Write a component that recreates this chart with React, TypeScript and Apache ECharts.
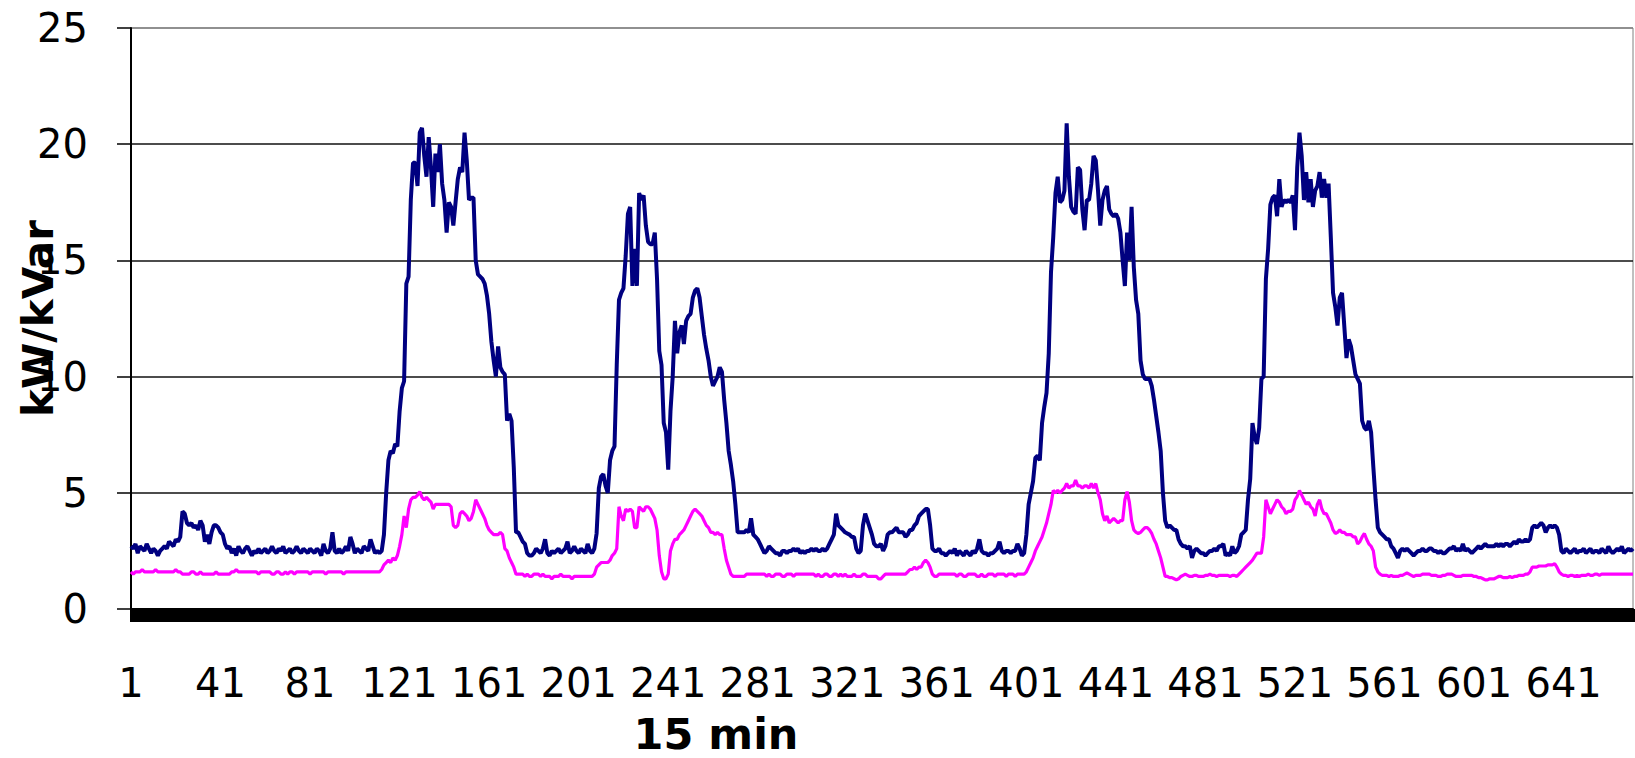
import React, { useEffect, useRef } from "react";
import * as echarts from "echarts";

// Active power (kW), one array per day of 96 quarter-hours
const kwDay1 = [
  2.7, 2.6, 2.8, 2.4, 2.7, 2.6, 2.5, 2.8, 2.6, 2.4,
  2.6, 2.5, 2.3, 2.5, 2.6, 2.7, 2.6, 2.9, 2.8, 2.7,
  3.0, 2.9, 3.1, 4.2, 4.1, 3.7, 3.6, 3.7, 3.5, 3.6,
  3.4, 3.8, 3.6, 2.9, 3.2, 2.8, 3.3, 3.6, 3.6, 3.5,
  3.3, 3.2, 2.8, 2.6, 2.7, 2.4, 2.6, 2.3, 2.7, 2.5,
  2.4, 2.6, 2.7, 2.5, 2.3, 2.5, 2.4, 2.6, 2.4, 2.5,
  2.6, 2.4, 2.5, 2.7, 2.5, 2.4, 2.6, 2.5, 2.7, 2.4,
  2.5, 2.6, 2.4, 2.5, 2.7, 2.5, 2.4, 2.6, 2.5, 2.4,
  2.6, 2.5, 2.4, 2.6, 2.5, 2.3, 2.8, 2.5, 2.4, 2.6,
  3.3, 2.5, 2.4, 2.6, 2.4, 2.5,
];
const kwDay2 = [
  2.7, 2.5, 3.1, 2.8,
  2.4, 2.6, 2.5, 2.4, 2.7, 2.6, 2.5, 3.0, 2.7, 2.4,
  2.5, 2.4, 2.5, 3.2, 5.0, 6.4, 6.8, 6.7, 7.1, 7.0,
  8.5, 9.5, 9.8, 14.0, 14.3, 17.6, 19.2, 19.2, 18.2, 20.5,
  20.7, 19.5, 18.6, 20.3, 19.0, 17.3, 19.6, 18.8, 20.0, 18.3,
  17.6, 16.2, 17.5, 17.3, 16.5, 17.5, 18.5, 19.0, 18.8, 20.5,
  19.3, 17.6, 17.7, 17.7, 15.0, 14.4, 14.3, 14.2, 14.0, 13.5,
  12.7, 11.5, 10.7, 10.0, 11.3, 10.4, 10.2, 10.1, 8.1, 8.4,
  8.1, 6.1, 3.3, 3.3, 3.1, 2.9, 2.8, 2.4, 2.3, 2.3,
  2.4, 2.6, 2.5, 2.4, 2.6, 3.0, 2.4, 2.3, 2.5, 2.4,
  2.5, 2.6,
];
const kwDay3 = [
  2.4, 2.5, 2.6, 2.9, 2.4, 2.5, 2.7, 2.5,
  2.4, 2.6, 2.5, 2.4, 2.8, 2.5, 2.4, 2.6, 3.25, 5.2,
  5.7, 5.8, 5.3, 5.0, 6.4, 6.8, 7.0, 10.5, 13.3, 13.6,
  13.8, 15.2, 17.0, 17.3, 13.9, 15.5, 13.9, 17.9, 17.6, 17.8,
  16.5, 15.8, 15.7, 15.7, 16.2, 14.2, 11.1, 10.5, 8.0, 7.6,
  6.0, 8.5, 10.0, 12.4, 11.0, 11.9, 12.2, 11.4, 12.4, 12.6,
  12.7, 13.4, 13.7, 13.8, 13.4, 12.6, 11.8, 11.2, 10.7, 10.0,
  9.6, 9.8, 10.0, 10.4, 10.2, 9.0, 8.0, 6.8, 6.2, 5.5,
  4.5, 3.3, 3.3, 3.3, 3.3, 3.4, 3.3, 3.9, 3.2, 3.1,
  3.0, 2.8, 2.6, 2.4, 2.5, 2.7, 2.6, 2.5,
];
const kwDay4 = [
  2.4, 2.4,
  2.3, 2.5, 2.5, 2.4, 2.5, 2.5, 2.6, 2.5, 2.6, 2.4,
  2.5, 2.4, 2.5, 2.5, 2.6, 2.5, 2.6, 2.5, 2.5, 2.6,
  2.5, 2.6, 2.8, 3.0, 3.2, 4.1, 3.6, 3.5, 3.4, 3.3,
  3.25, 3.2, 3.1, 3.1, 2.6, 2.4, 2.5, 3.6, 4.1, 3.8,
  3.5, 3.2, 2.8, 2.7, 2.7, 2.8, 2.5, 2.7, 3.2, 3.3,
  3.3, 3.4, 3.5, 3.3, 3.3, 3.3, 3.1, 3.2, 3.4, 3.4,
  3.6, 3.7, 4.0, 4.1, 4.2, 4.3, 4.3, 3.6, 2.6, 2.5,
  2.5, 2.6, 2.4, 2.4, 2.3, 2.4, 2.5, 2.4, 2.6, 2.3,
  2.5, 2.4, 2.3, 2.5, 2.4, 2.3, 2.5, 2.4, 2.6, 3.0,
  2.5, 2.4, 2.4, 2.3,
];
const kwDay5 = [
  2.4, 2.4, 2.5, 2.6, 2.9, 2.5,
  2.4, 2.5, 2.5, 2.4, 2.5, 2.5, 2.8, 2.6, 2.3, 2.4,
  3.2, 4.5, 5.0, 5.5, 6.5, 6.6, 6.4, 8.0, 8.7, 9.3,
  11.0, 14.5, 16.0, 17.9, 18.6, 17.5, 17.6, 18.0, 20.9, 18.6,
  17.3, 17.1, 17.0, 19.0, 18.9, 17.2, 16.3, 17.6, 17.6, 18.3,
  19.5, 19.3, 18.0, 16.5, 17.6, 18.0, 18.2, 17.2, 17.0, 16.9,
  17.0, 16.8, 16.2, 15.0, 13.9, 16.2, 15.0, 17.3, 14.7, 13.3,
  12.7, 10.7, 10.1, 9.9, 9.9, 9.9, 9.6, 9.0, 8.3, 7.6,
  6.8, 5.0, 3.8, 3.5, 3.6, 3.5, 3.4, 3.4, 3.0, 2.8,
  2.7, 2.7, 2.6, 2.7, 2.2, 2.5, 2.6, 2.5, 2.4, 2.4,
];
const kwDay6 = [
  2.3, 2.4, 2.5, 2.5, 2.6, 2.5, 2.7, 2.7, 2.8, 2.3,
  2.4, 2.3, 2.7, 2.4, 2.5, 2.7, 3.2, 3.3, 3.4, 4.7,
  5.6, 8.0, 7.4, 7.1, 7.8, 9.9, 10.0, 14.2, 15.5, 17.4,
  17.7, 17.8, 16.9, 18.5, 17.3, 17.6, 17.5, 17.6, 17.5, 17.8,
  16.3, 19.0, 20.5, 19.5, 17.6, 18.8, 17.5, 18.5, 17.3, 18.0,
  18.2, 18.8, 17.7, 18.5, 17.7, 18.3, 16.0, 13.6, 13.0, 12.2,
  13.4, 13.6, 12.2, 10.8, 11.6, 11.3, 10.7, 10.1, 9.9, 9.7,
  8.1, 7.8, 7.7, 8.1, 7.6, 6.1, 4.7, 3.5, 3.3, 3.2,
  3.1, 3.0, 3.0, 2.7, 2.6, 2.4, 2.2, 2.5, 2.6, 2.5,
  2.6, 2.5, 2.4, 2.3, 2.4, 2.5,
];
const kwDay7 = [
  2.5, 2.6, 2.5, 2.5,
  2.6, 2.6, 2.5, 2.5, 2.4, 2.5, 2.4, 2.4, 2.5, 2.6,
  2.6, 2.7, 2.5, 2.6, 2.5, 2.8, 2.5, 2.6, 2.5, 2.4,
  2.5, 2.6, 2.7, 2.6, 2.7, 2.8, 2.7, 2.7, 2.7, 2.7,
  2.8, 2.7, 2.8, 2.7, 2.8, 2.8, 2.7, 2.8, 2.9, 2.8,
  3.0, 2.9, 2.9, 3.0, 2.9, 3.0, 3.5, 3.6, 3.5, 3.6,
  3.7, 3.6, 3.3, 3.5, 3.6, 3.5, 3.6, 3.5, 3.2, 2.5,
  2.4, 2.6, 2.5, 2.4, 2.5, 2.6, 2.4, 2.5, 2.5, 2.6,
  2.4, 2.5, 2.6, 2.4, 2.5, 2.5, 2.4, 2.6, 2.5, 2.4,
  2.7, 2.5, 2.4, 2.5, 2.6, 2.5, 2.7, 2.4, 2.5, 2.6, 2.5, 2.6,
];

// Reactive power (kVar), one array per day
const kvarDay1 = [
  1.6, 1.5, 1.6, 1.6, 1.6, 1.7, 1.6, 1.6, 1.6, 1.6, 1.6, 1.7, 1.6, 1.6, 1.6, 1.6, 1.6, 1.6, 1.6, 1.6,
  1.7, 1.6, 1.6, 1.5, 1.5, 1.5, 1.5, 1.6, 1.6, 1.5, 1.5, 1.6, 1.5, 1.5, 1.5, 1.5, 1.5, 1.5, 1.6, 1.5,
  1.5, 1.5, 1.5, 1.5, 1.5, 1.6, 1.6, 1.7, 1.6, 1.6, 1.6, 1.6, 1.6, 1.6, 1.6, 1.6, 1.6, 1.5, 1.6, 1.6,
  1.6, 1.6, 1.6, 1.5, 1.5, 1.6, 1.6, 1.5, 1.5, 1.6, 1.5, 1.6, 1.6, 1.5, 1.6, 1.6, 1.6, 1.6, 1.6, 1.6,
  1.5, 1.6, 1.6, 1.6, 1.6, 1.6, 1.6, 1.5, 1.6, 1.6, 1.6, 1.6, 1.6, 1.6, 1.6, 1.5,
];
const kvarDay2 = [
  1.6, 1.6, 1.6, 1.6,
  1.6, 1.6, 1.6, 1.6, 1.6, 1.6, 1.6, 1.6, 1.6, 1.6, 1.6, 1.6, 1.7,
  1.9, 2.0, 2.1, 2.0, 2.2, 2.1, 2.3,
  2.7, 3.2, 4.0, 3.5, 4.3, 4.7, 4.8, 4.8, 4.9, 5.05,
  4.8, 4.7, 4.8, 4.7, 4.6, 4.3, 4.5, 4.5, 4.5, 4.5,
  4.5, 4.5, 4.5, 4.4, 3.6, 3.5, 3.6, 4.1, 4.2, 4.1,
  4.0, 3.8, 3.9, 4.2, 4.7, 4.5, 4.3, 4.1, 3.9, 3.6,
  3.4, 3.3, 3.2, 3.2, 3.2, 3.3, 3.2, 2.6, 2.5, 2.2,
  2.0, 1.8, 1.5, 1.5, 1.5, 1.5, 1.4, 1.5, 1.4, 1.4,
  1.5, 1.5, 1.5, 1.4, 1.5, 1.4, 1.4, 1.4, 1.3, 1.4, 1.4, 1.4,
];
const kvarDay3 = [
  1.5, 1.4, 1.4, 1.4, 1.4, 1.3, 1.4, 1.4, 1.4, 1.4, 1.4, 1.4, 1.4, 1.4, 1.4, 1.5,
  1.8, 1.9, 2.0, 2.0, 2.0, 2.0, 2.1, 2.3, 2.4, 2.6,
  4.4, 4.0, 3.8, 4.3, 4.2, 4.3, 4.2, 3.5, 3.5, 4.4,
  4.3, 4.2, 4.4, 4.4, 4.3, 4.1, 3.9, 3.4, 2.3, 1.6,
  1.3, 1.3, 1.5, 2.5, 2.8, 3.0, 3.0, 3.2, 3.3, 3.4,
  3.6, 3.8, 4.0, 4.2, 4.3, 4.2, 4.1, 4.0, 3.8, 3.6,
  3.5, 3.3, 3.3, 3.2, 3.3, 3.2, 3.2, 2.6, 2.1, 1.8,
  1.5, 1.4, 1.4, 1.4, 1.4, 1.4, 1.4, 1.5, 1.5, 1.5,
  1.5, 1.5, 1.5, 1.5, 1.5, 1.5, 1.4, 1.5, 1.4, 1.4,
];
const kvarDay4 = [
  1.5, 1.5, 1.5, 1.4, 1.4, 1.5, 1.5, 1.5, 1.4, 1.5,
  1.5, 1.5, 1.5, 1.5, 1.5, 1.5, 1.5, 1.5, 1.4, 1.5,
  1.4, 1.4, 1.5, 1.5, 1.4, 1.4, 1.5, 1.5, 1.4, 1.5,
  1.4, 1.5, 1.4, 1.4, 1.4, 1.5, 1.4, 1.4, 1.4, 1.5,
  1.5, 1.4, 1.4, 1.4, 1.4, 1.4, 1.3, 1.3, 1.4, 1.5,
  1.5, 1.5, 1.5, 1.5, 1.5, 1.5, 1.5, 1.5, 1.5, 1.6,
  1.7, 1.7, 1.8, 1.7, 1.8, 1.8, 2.0, 2.1, 2.0, 1.8,
  1.5, 1.4, 1.4, 1.5, 1.5, 1.5, 1.5, 1.5, 1.5, 1.5,
  1.5, 1.4, 1.5, 1.5, 1.4, 1.4, 1.5, 1.5, 1.5, 1.5,
  1.4, 1.4, 1.5, 1.4, 1.4, 1.5,
];
const kvarDay5 = [
  1.5, 1.5, 1.4, 1.5, 1.5, 1.5, 1.5, 1.4, 1.5, 1.5,
  1.5, 1.4, 1.5, 1.5, 1.5, 1.5, 1.6, 1.8, 2.0, 2.2,
  2.5, 2.7, 2.9, 3.1, 3.4, 3.7, 4.1, 4.5, 5.1, 5.0,
  5.1, 5.0, 5.1, 5.2, 5.4, 5.2, 5.3, 5.3, 5.55, 5.3,
  5.3, 5.2, 5.3, 5.3, 5.2, 5.4, 5.2, 5.4, 5.0, 4.7,
  4.1, 3.8, 4.0, 3.7, 3.8, 3.9, 3.8, 3.7, 3.8, 3.8,
  4.7, 5.05, 4.6, 3.8, 3.4, 3.3, 3.25, 3.3, 3.4, 3.5,
  3.5, 3.4, 3.25, 3.0, 2.8, 2.5, 2.2, 1.8, 1.4, 1.4,
  1.35, 1.35, 1.3, 1.25, 1.3, 1.4, 1.45, 1.5, 1.45, 1.4,
  1.4, 1.45, 1.45, 1.4, 1.4, 1.4,
];
const kvarDay6 = [
  1.45, 1.45, 1.5, 1.45, 1.45, 1.4, 1.45, 1.45, 1.45, 1.45,
  1.45, 1.4, 1.45, 1.45, 1.4, 1.5, 1.6, 1.7, 1.8, 1.9,
  2.0, 2.1, 2.25, 2.4, 2.4, 2.4, 3.1, 4.7, 4.4, 4.1,
  4.3, 4.5, 4.7, 4.6, 4.4, 4.3, 4.1, 4.2, 4.2, 4.3,
  4.7, 4.85, 5.1, 4.9, 4.7, 4.5, 4.6, 4.4, 4.3, 4.0,
  4.5, 4.7, 4.3, 4.1, 4.1, 3.9, 3.7, 3.4, 3.25, 3.3,
  3.4, 3.3, 3.3, 3.2, 3.2, 3.2, 3.1, 3.1, 2.8, 2.9,
  3.1, 3.25, 3.0, 2.8, 2.7, 2.5, 1.8, 1.6, 1.5, 1.45,
  1.45, 1.45, 1.4, 1.45, 1.4, 1.4, 1.4, 1.45, 1.45, 1.5,
  1.55, 1.5, 1.45, 1.4, 1.45, 1.45,
];
const kvarDay7 = [
  1.45, 1.5, 1.5, 1.5, 1.5, 1.45, 1.45, 1.45, 1.4, 1.4,
  1.45, 1.45, 1.5, 1.5, 1.5, 1.45, 1.4, 1.4, 1.4, 1.45,
  1.45, 1.45, 1.45, 1.45, 1.4, 1.4, 1.35, 1.35, 1.3, 1.25,
  1.25, 1.3, 1.3, 1.3, 1.35, 1.4, 1.4, 1.35, 1.35, 1.35,
  1.4, 1.35, 1.4, 1.4, 1.45, 1.45, 1.45, 1.5, 1.5, 1.6,
  1.8, 1.8, 1.8, 1.85, 1.85, 1.85, 1.85, 1.9, 1.9, 1.9,
  1.95, 1.8, 1.6, 1.5, 1.45, 1.45, 1.4, 1.45, 1.45, 1.4,
  1.45, 1.4, 1.45, 1.45, 1.45, 1.5, 1.45, 1.45, 1.5, 1.5,
  1.45, 1.5, 1.5, 1.5, 1.5, 1.5, 1.5, 1.5, 1.5, 1.5,
  1.5, 1.5, 1.5, 1.5, 1.5, 1.5,
];

const activePower = [...kwDay1, ...kwDay2, ...kwDay3, ...kwDay4, ...kwDay5, ...kwDay6, ...kwDay7];
const reactivePower = [...kvarDay1, ...kvarDay2, ...kvarDay3, ...kvarDay4, ...kvarDay5, ...kvarDay6, ...kvarDay7];

// x categories: quarter-hour index 1..672
const categories = activePower.map((_, i) => String(i + 1));
const xLabelEvery = 40;
const yMin = 0;
const yMax = 25;
const yStep = 5;
const xTitle = "15 min";
const yTitle = "kW/kVar";

export default function App() {
  const ref = useRef<HTMLDivElement>(null);

  useEffect(() => {
    if (!ref.current) return;
    const chart = echarts.init(ref.current, undefined, { renderer: "svg" });
    chart.setOption({
      animation: false,
      backgroundColor: "#ffffff",
      textStyle: { fontFamily: "DejaVu Sans" },
      grid: {
        left: 131,
        right: 2,
        top: 28,
        bottom: 149,
        containLabel: false,
        outerBoundsMode: "none",
        show: true,
        borderColor: "#808080",
        borderWidth: 1,
        backgroundColor: "transparent",
      },
      xAxis: {
        type: "category",
        data: categories,
        boundaryGap: false,
        name: xTitle,
        nameLocation: "middle",
        nameGap: 103,
        nameMoveOverlap: false,
        nameTextStyle: {
          fontFamily: "DejaVu Sans",
          fontWeight: "bold",
          fontSize: 43,
          color: "#000",
          padding: [0, 332, 0, 0],
        },
        axisLine: { show: true, lineStyle: { color: "#000", width: 2 } },
        axisTick: {
          show: true,
          interval: 0,
          length: 13,
          lineStyle: { color: "#000", width: 3 },
        },
        axisLabel: {
          interval: xLabelEvery - 1,
          margin: 54,
          fontFamily: "DejaVu Sans",
          fontSize: 40,
          color: "#000",
        },
        splitLine: { show: false },
      },
      yAxis: {
        type: "value",
        min: yMin,
        max: yMax,
        interval: yStep,
        name: yTitle,
        nameLocation: "middle",
        nameRotate: 90,
        nameGap: 72,
        nameMoveOverlap: false,
        nameTextStyle: {
          fontFamily: "DejaVu Sans",
          fontWeight: "bold",
          fontSize: 42,
          color: "#000",
        },
        axisLine: { show: true, lineStyle: { color: "#000", width: 2 } },
        axisTick: { show: true, length: 14, lineStyle: { color: "#000", width: 1.5 } },
        axisLabel: {
          margin: 43,
          fontFamily: "DejaVu Sans",
          fontSize: 40,
          color: "#000",
        },
        splitLine: {
          show: true,
          lineStyle: {
            color: ["#000", "#111", "#111", "#111", "#111", "#808080"],
            width: 1.5,
          },
        },
      },
      series: [
        {
          name: "kVar",
          type: "line",
          data: reactivePower,
          showSymbol: false,
          symbol: "none",
          lineStyle: { color: "#ff00ff", width: 3.2 },
          z: 2,
        },
        {
          name: "kW",
          type: "line",
          data: activePower,
          showSymbol: false,
          symbol: "none",
          lineStyle: { color: "#000080", width: 4 },
          z: 3,
        },
      ],
    });
    return () => chart.dispose();
  }, []);

  return (
    <div
      ref={ref}
      style={{ position: "fixed", left: 0, top: 0, width: "1635px", height: "758px", background: "#fff" }}
    />
  );
}
